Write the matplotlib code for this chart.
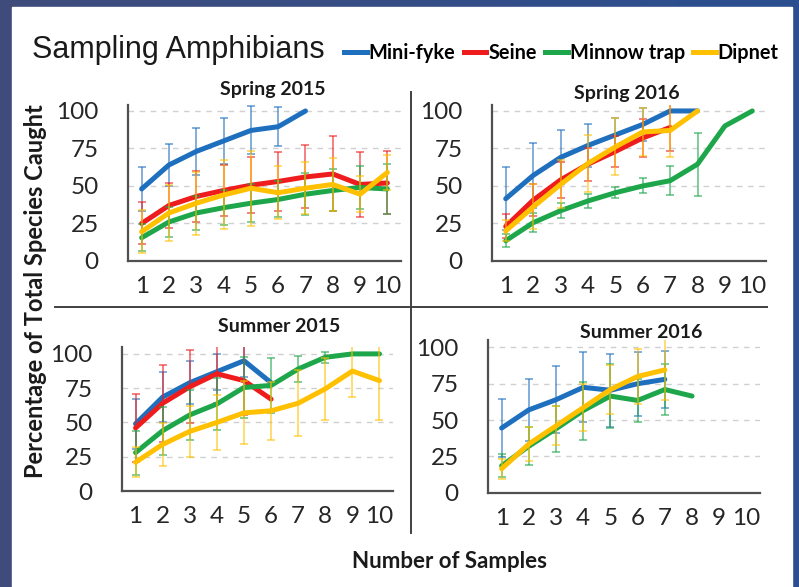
import numpy as np
import matplotlib
matplotlib.use("Agg")
import matplotlib.pyplot as plt
from matplotlib.lines import Line2D
from matplotlib.patches import Rectangle
from matplotlib.colors import LinearSegmentedColormap

nan = np.nan
samples = list(range(1, 11))
methods = ["Mini-fyke", "Seine", "Minnow trap", "Dipnet"]
colors = ["#1f6fbf", "#ee1c1c", "#1ea64b", "#ffc000"]

# Spring 2015
sp15_mini = [48, 64, 73, 80, 87, 89.5, 100, nan, nan, nan]
sp15_mini_err = [14.5, 14, 15.5, 15.5, 16, 13, nan, nan, nan, nan]
sp15_seine = [25, 37, 43, 47, 50.5, 53, 56, 58, 51, 52]
sp15_seine_err = [14, 15, 17, 17, 18.5, 19.5, 21, 25, 21.5, 21]
sp15_minnow = [15.5, 26, 32, 35.5, 38.5, 41, 44.5, 47, 49, 48]
sp15_minnow_err = [9, 10, 11.5, 11.5, 12.5, 12, 14, 14, 14.5, 16.5]
sp15_dip = [19.5, 32, 38.5, 44, 48.5, 45.5, 48.5, 51, 44.5, 59]
sp15_dip_err = [14.5, 18.5, 21, 23, 25, 17.5, 17.5, 17.5, 12, 11.5]

# Spring 2016
sp16_mini = [41.5, 57, 69, 77, 84, 91, 100, 100, nan, nan]
sp16_mini_err = [21, 21.5, 18, 14.5, 11, 11, nan, nan, nan, nan]
sp16_seine = [23, 40.5, 54, 64.5, 73, 82, 89, nan, nan, nan]
sp16_seine_err = [8, 10.5, 12, 11, 10.5, 12.5, 15.5, nan, nan, nan]
sp16_minnow = [13.5, 25.5, 33.5, 40, 45.5, 50, 53.5, 64.5, 90, 100]
sp16_minnow_err = [4.5, 6.5, 5, 4.5, 3.5, 5, 9.5, 21, nan, nan]
sp16_dip = [20, 36, 51, 65, 76, 86, 87, 100, nan, nan]
sp16_dip_err = [7, 15, 16, 19, 19, 16, 18, nan, nan, nan]

# Summer 2015
su15_mini = [49, 68.5, 79, 87, 95, 79, nan, nan, nan, nan]
su15_mini_err = [18, 18, 15.5, 13, 12, nan, nan, nan, nan, nan]
su15_seine = [46, 64, 76, 85.5, 80.5, 67, nan, nan, nan, nan]
su15_seine_err = [24.5, 28, 26.5, 21, 25, nan, nan, nan, nan, nan]
su15_minnow = [28, 44, 55.5, 63.5, 75.5, 77, 89, 97.5, 100, 100]
su15_minnow_err = [16, 17.5, 18, 19, 22, 20, 9.5, 4, nan, nan]
su15_dip = [21, 34, 43.5, 50, 57, 58.5, 64, 74.5, 87.5, 80.5]
su15_dip_err = [11, 15.5, 18.5, 20, 23, 21, 24, 22.5, 19, 28.5]

# Summer 2016 (no Seine)
su16_mini = [44.5, 57, 64, 72.5, 70.5, 75, 78, nan, nan, nan]
su16_mini_err = [20, 21.5, 23, 24, 25, 22, 19.5, nan, nan, nan]
su16_minnow = [18.5, 32, 44, 56.5, 66.5, 63.5, 71, 66.5, nan, nan]
su16_minnow_err = [8, 13, 16, 20, 22, 15, 17.5, nan, nan, nan]
su16_dip = [16.5, 33.5, 46, 58.5, 71, 80, 84.5, nan, nan, nan]
su16_dip_err = [7, 12, 13.5, 16, 17, 19, 21, nan, nan, nan]

panels = [
    ("Spring 2015", [0.1602, 0.5554, 0.3417, 0.2658], 104, (0.3417, 0.8467),
     [(sp15_mini, sp15_mini_err), (sp15_seine, sp15_seine_err),
      (sp15_minnow, sp15_minnow_err), (sp15_dip, sp15_dip_err)]),
    ("Spring 2016", [0.6158, 0.5554, 0.3429, 0.2658], 104, (0.7847, 0.8399),
     [(sp16_mini, sp16_mini_err), (sp16_seine, sp16_seine_err),
      (sp16_minnow, sp16_minnow_err), (sp16_dip, sp16_dip_err)]),
    ("Summer 2015", [0.1527, 0.1635, 0.3392, 0.2453], 105, (0.349, 0.4446),
     [(su15_mini, su15_mini_err), (su15_seine, su15_seine_err),
      (su15_minnow, su15_minnow_err), (su15_dip, su15_dip_err)]),
    ("Summer 2016", [0.6108, 0.1606, 0.3404, 0.2600], 105, (0.8023, 0.4344),
     [(su16_mini, su16_mini_err), None,
      (su16_minnow, su16_minnow_err), (su16_dip, su16_dip_err)]),
]

fig = plt.figure(figsize=(7.99, 5.87), dpi=100)

# slide background
bg = fig.add_axes([0, 0, 1, 1], zorder=-10)
grad = np.linspace(0, 1, 256).reshape(1, -1)
cmap = LinearSegmentedColormap.from_list("slide", ["#3f4b7b", "#2b4f90"])
bg.imshow(grad, extent=[0, 799, 0, 587], aspect="auto", cmap=cmap)
bg.add_patch(Rectangle((12, 0), 780, 580, color="white"))
bg.set_xlim(0, 799)
bg.set_ylim(0, 587)
bg.axis("off")

tick_font = "Lato"
for title, rect, ytop, tpos, series in panels:
    ax = fig.add_axes(rect)
    ax.set_facecolor("white")
    for s, c in zip(series, colors):
        if s is None:
            continue
        vals, errs = s
        ax.errorbar(samples, vals, yerr=errs, fmt="none", ecolor=c, alpha=0.6,
                    elinewidth=1.3, capsize=3, capthick=1.3)
        ax.plot(samples, vals, color=c, lw=3.6, solid_capstyle="round")
    ax.set_xlim(0.5, 10.5)
    ax.set_ylim(0, ytop)
    ax.set_xticks(samples)
    ax.set_yticks([0, 25, 50, 75, 100])
    for g in [25, 50, 75, 100]:
        ax.axhline(g, color="#d0d0d0", lw=1, dashes=(4, 4), zorder=0)
    for s in ["top", "right"]:
        ax.spines[s].set_visible(False)
    for s in ["left", "bottom"]:
        ax.spines[s].set_color("#505050")
        ax.spines[s].set_linewidth(1.6)
    ax.tick_params(length=0, labelsize=17.5)
    ax.tick_params(axis="y", pad=21)
    ax.tick_params(axis="x", pad=11)
    for lab in ax.get_xticklabels() + ax.get_yticklabels():
        lab.set_fontfamily(tick_font)
        lab.set_color("#262626")
    fig.text(tpos[0], tpos[1], title, ha="center", va="center",
             fontsize=14, fontweight="bold", family="Lato", color="#1a1a1a")

# quadrant dividers
fig.add_artist(Line2D([411 / 799, 411 / 799], [1 - 92 / 587, 1 - 533 / 587],
                      color="#404040", lw=1.4, transform=fig.transFigure))
fig.add_artist(Line2D([55 / 799, 767 / 799], [1 - 307 / 587, 1 - 307 / 587],
                      color="#404040", lw=1.4, transform=fig.transFigure))

fig.text(32 / 799, 1 - 50 / 587, "Sampling Amphibians", ha="left", va="center",
         fontsize=22, family="Liberation Sans", color="#1a1a1a")

handles = [Line2D([], [], color=c, lw=3.6) for c in colors]
leg = fig.legend(handles, methods, loc="center left",
                 bbox_to_anchor=(344 / 799, 1 - 53 / 587), ncol=4,
                 frameon=False, handlelength=1.15, handletextpad=0.1,
                 columnspacing=0.4, borderpad=0, borderaxespad=0,
                 prop={"family": "Lato", "weight": "bold", "size": 14.3})

fig.text(36 / 799, 1 - 291 / 587, "Percentage of Total Species Caught",
         rotation=90, ha="center", va="center", fontsize=17,
         fontweight="bold", family="Lato", color="#1a1a1a")
fig.text(450 / 799, 1 - 562 / 587, "Number of Samples", ha="center",
         va="center", fontsize=16, fontweight="bold", family="Lato",
         color="#1a1a1a")

fig.savefig("out.png", dpi=100)
